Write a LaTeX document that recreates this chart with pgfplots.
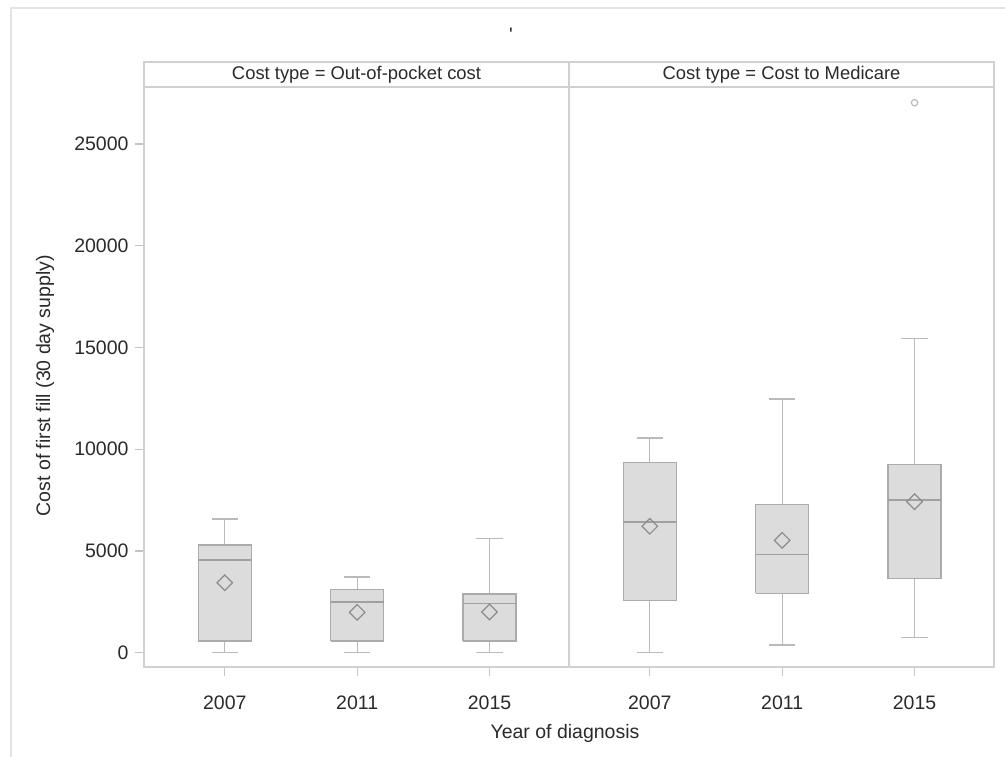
\documentclass[border=0pt]{standalone}
\usepackage{fontspec}
\setmainfont{Liberation Sans}
\usepackage{pgfplots}
\pgfplotsset{compat=1.18}
\definecolor{outerframe}{HTML}{E4E4E4}
\definecolor{framegrey}{HTML}{D0D0D0}
\definecolor{tickgrey}{HTML}{C4C4C4}
\definecolor{boxfill}{HTML}{DCDCDC}
\definecolor{boxedge}{HTML}{ABABAB}
\definecolor{whisk}{HTML}{BABABA}
\definecolor{mededge}{HTML}{A0A0A0}
\definecolor{meanedge}{HTML}{8C8C8C}
\definecolor{txt}{HTML}{2A2A2A}
\pgfplotsset{
  panel/.style={
    scale only axis,
    width=212.5pt, height=290pt,
    xmin=0.39, xmax=3.6,
    ymin=-703, ymax=27798,
    xtick={1,2,3}, xticklabels={2007,2011,2015},
    scaled y ticks=false,
    axis line style={draw=framegrey, line width=1pt},
    tick style={draw=tickgrey, line width=0.6pt},
    major tick length=4.3pt,
    tick align=outside, tick pos=left,
    ticklabel style={text=txt},
    xticklabel style={yshift=-6.5pt},
    /pgf/number format/assume math mode=true,
    /pgf/number format/set thousands separator={},
    unbounded coords=jump,
  },
  whiskers/.style={draw=whisk, line width=0.6pt, mark=none},
  box/.style={draw=boxedge, fill=boxfill, line width=0.7pt, mark=none},
  median/.style={draw=mededge, line width=0.8pt, mark=none},
  meanmark/.style={only marks, mark=square, mark size=2.75pt,
    mark options={rotate=45, draw=meanedge, fill=boxfill, line width=0.6pt}},
}
\begin{document}
\fontsize{9.75}{11.7}\selectfont
\begin{tikzpicture}
\begin{scope}[x=0.5pt,y=0.5pt]
\path[use as bounding box] (0,0) rectangle (1005,756);
\draw[outerframe, line width=1.3pt] (11,-20) -- (11,748) -- (1030,748);
\node[text=txt] at (511,721) {\textquotesingle};
\end{scope}

% left panel: out-of-pocket cost
\begin{axis}[panel, at={(72pt,44.5pt)}, anchor=south west,
  ytick={0,5000,10000,15000,20000,25000},
  ylabel={Cost of first fill (30 day supply)},
  ylabel style={at={(axis description cs:-0.233,0.485)}, anchor=center, rotate=0, text=txt}]
% whiskers and caps
\addplot[whiskers] coordinates {
  (1,0) (1,575) (nan,nan) (1,5292) (1,6570) (nan,nan)
  (0.9,0) (1.1,0) (nan,nan) (0.9,6570) (1.1,6570) (nan,nan)
  (2,0) (2,575) (nan,nan) (2,3096) (2,3720) (nan,nan)
  (1.9,0) (2.1,0) (nan,nan) (1.9,3720) (2.1,3720) (nan,nan)
  (3,0) (3,575) (nan,nan) (3,2885) (3,5622) (nan,nan)
  (2.9,0) (3.1,0) (nan,nan) (2.9,5622) (3.1,5622)};
% boxes (q1 to q3)
\addplot[box] coordinates {(0.8,575) (1.2,575) (1.2,5292) (0.8,5292) (0.8,575)};
\addplot[box] coordinates {(1.8,575) (2.2,575) (2.2,3096) (1.8,3096) (1.8,575)};
\addplot[box] coordinates {(2.8,575) (3.2,575) (3.2,2885) (2.8,2885) (2.8,575)};
% medians
\addplot[median] coordinates {(0.8,4555) (1.2,4555) (nan,nan)
  (1.8,2506) (2.2,2506) (nan,nan) (2.8,2427) (3.2,2427)};
% means
\addplot[meanmark] coordinates {(1,3440) (2,1985) (3,2000)};
\end{axis}

% right panel: cost to Medicare
\begin{axis}[panel, at={(284.5pt,44.5pt)}, anchor=south west, ytick=\empty]
\addplot[whiskers] coordinates {
  (1,0) (1,2575) (nan,nan) (1,9356) (1,10550) (nan,nan)
  (0.9,0) (1.1,0) (nan,nan) (0.9,10550) (1.1,10550) (nan,nan)
  (2,378) (2,2919) (nan,nan) (2,7273) (2,12467) (nan,nan)
  (1.9,378) (2.1,378) (nan,nan) (1.9,12467) (2.1,12467) (nan,nan)
  (3,737) (3,3636) (nan,nan) (3,9258) (3,15430) (nan,nan)
  (2.9,737) (3.1,737) (nan,nan) (2.9,15430) (3.1,15430)};
\addplot[box] coordinates {(0.8,2575) (1.2,2575) (1.2,9356) (0.8,9356) (0.8,2575)};
\addplot[box] coordinates {(1.8,2919) (2.2,2919) (2.2,7273) (1.8,7273) (1.8,2919)};
\addplot[box] coordinates {(2.8,3636) (3.2,3636) (3.2,9258) (2.8,9258) (2.8,3636)};
\addplot[median] coordinates {(0.8,6408) (1.2,6408) (nan,nan)
  (1.8,4835) (2.2,4835) (nan,nan) (2.8,7504) (3.2,7504)};
\addplot[meanmark] coordinates {(1,6211) (2,5523) (3,7420)};
% outlier
\addplot[only marks, mark=o, mark size=1.6pt,
  mark options={draw=whisk, line width=0.6pt}] coordinates {(3,27027)};
\end{axis}

\begin{scope}[x=0.5pt,y=0.5pt]
% panel headers
\draw[framegrey, line width=1pt] (144,669) rectangle (569,694);
\draw[framegrey, line width=1pt] (569,669) rectangle (994,694);
\node[text=txt, font=\fontsize{9.2}{11}\selectfont] at (356.5,681.5) {Cost type = Out-of-pocket cost};
\node[text=txt, font=\fontsize{9.2}{11}\selectfont] at (781.5,681.5) {Cost type = Cost to Medicare};
\node[text=txt] at (565,23) {Year of diagnosis};
\end{scope}
\end{tikzpicture}
\end{document}
